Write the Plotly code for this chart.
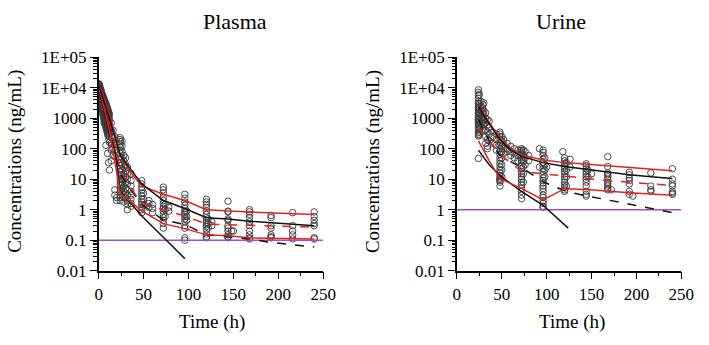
import plotly.graph_objects as go

# ---------------- DATA ----------------
plasma_obs = [
    (0.1, [13500, 12000, 10000, 8500]),
    (0.25, [13000, 11000, 9500, 8000, 6500]),
    (0.5, [12500, 10500, 9000, 7000, 5500]),
    (0.75, [12000, 10000, 8000, 6500, 5000]),
    (1, [12000, 9500, 8000, 6000, 4500, 3500]),
    (1.5, [10000, 8500, 7000, 5000, 4000]),
    (2, [9000, 7500, 6000, 4500, 3500, 2800]),
    (2.5, [8500, 6500, 5000, 4000, 3000]),
    (3, [7500, 6000, 4500, 3500, 2500, 2000]),
    (3.5, [6500, 5200, 4000, 3000, 2200]),
    (4, [6000, 4800, 3800, 2800, 2000, 1500]),
    (4.5, [5500, 4300, 3300, 2400, 1700]),
    (5, [5000, 4000, 3000, 2200, 1600, 1200]),
    (5.5, [4500, 3500, 2700, 1900, 1400, 1000]),
    (6, [4200, 3300, 2500, 1800, 1300, 900, 700]),
    (6.5, [3800, 2900, 2200, 1600, 1100, 800]),
    (7, [3500, 2600, 2000, 1400, 1000, 700]),
    (7.5, [3200, 2400, 1800, 1200, 850, 600]),
    (8, [3000, 2200, 1600, 1100, 800, 500, 130]),
    (8.5, [2700, 2000, 1400, 1000, 700, 450]),
    (9, [2400, 1800, 1300, 900, 600, 400]),
    (9.5, [2200, 1600, 1100, 800, 520, 350]),
    (10, [2000, 1500, 1000, 700, 450, 300, 70]),
    (10.5, [1800, 1300, 900, 600, 400, 260]),
    (11, [1600, 1200, 800, 550, 350, 35]),
    (11.5, [1450, 1000, 700, 480, 300, 200]),
    (12, [1300, 900, 600, 400, 250, 160, 20]),
    (14, [700, 400, 250, 150, 90, 40]),
    (16, [400, 250, 150, 100, 60]),
    (18, [250, 150, 90, 55, 4.5, 3]),
    (20, [2.5, 2]),
    (24, [230, 200, 170, 140, 110, 90, 70, 55, 45, 35, 28, 22, 17, 13, 10, 8, 6.5, 5, 4, 3, 2.5, 2]),
    (26, [180, 120, 80, 50, 30, 20, 14, 10, 7, 5, 3.5]),
    (28, [60, 40, 25, 15, 10, 6, 4, 2.5, 1.8]),
    (30, [50, 30, 18, 12, 8, 5, 3.5, 2.5]),
    (32, [25, 15, 10, 7, 4.5, 3, 2, 1.5, 1.0]),
    (36, [15, 9, 6, 4, 3, 2.2, 1.6, 1.3]),
    (48, [9, 7, 5.5, 4.5, 3.5, 2.8, 2.2, 1.8, 1.5, 1.2, 1.0, 0.8]),
    (50, [3.5, 2.2, 1.4]),
    (56, [2.0, 1.6, 1.2]),
    (60, [1.5, 1.1, 0.8]),
    (72, [5.5, 4.5, 3.5, 2.5, 2.0, 1.6, 1.3, 1.1, 0.9, 0.7, 0.55, 0.45, 0.35, 0.25]),
    (74, [1.5, 1.0, 0.6]),
    (78, [1.2, 0.9]),
    (96, [3.2, 2.4, 1.8, 1.4, 1.1, 0.9, 0.8, 0.7, 0.6, 0.5, 0.4, 0.3, 0.25, 0.12, 0.1]),
    (98, [0.9, 0.6, 0.45]),
    (120, [2.2, 1.8, 1.5, 1.2, 0.9, 0.7, 0.55, 0.45, 0.38, 0.32, 0.28, 0.22, 0.16, 0.13, 0.12]),
    (122, [0.5, 0.35, 0.25]),
    (126, [0.4, 0.3]),
    (144, [1.9, 0.9, 0.85, 0.5, 0.45, 0.3, 0.25, 0.2, 0.15, 0.13, 0.12]),
    (148, [0.2]),
    (150, [0.2]),
    (168, [1.0, 0.85, 0.7, 0.55, 0.4, 0.3, 0.2, 0.15, 0.12, 0.11]),
    (192, [0.65, 0.55, 0.3, 0.25, 0.15, 0.13, 0.12]),
    (216, [0.8, 0.3, 0.2, 0.15, 0.11]),
    (240, [0.85, 0.6, 0.45, 0.35, 0.3, 0.12, 0.11]),
]

urine_obs = [
    (24, [8500, 7000, 5500, 4500, 3500, 3000, 2500, 2200, 1900, 1600, 1400, 1200, 1000, 900, 800, 700, 600, 500, 420, 350, 300, 260, 48]),
    (25, [6000, 3000, 2000, 1500, 1100, 800, 600, 450, 350, 280]),
    (27, [3500, 2500, 1800, 1300, 1000, 700, 500]),
    (29, [2800, 2000, 1500, 1100, 800, 600, 400]),
    (30, [3200, 1700, 1300, 900, 650]),
    (32, [1500, 1000, 700, 400, 250, 150]),
    (34, [900, 600, 350, 200, 120, 100]),
    (36, [800, 500, 300, 180]),
    (40, [350, 250, 150]),
    (44, [300, 200, 130, 90]),
    (48, [350, 300, 250, 200, 160, 130, 100, 80, 65, 50, 40, 32, 25, 20, 16, 13, 11, 10, 9, 8, 6]),
    (50, [250, 180, 120, 80, 50, 30, 20, 12]),
    (52, [200, 140, 100, 70]),
    (56, [150, 100, 80]),
    (60, [120, 80, 60]),
    (64, [100, 70, 50]),
    (68, [90, 60, 40]),
    (72, [100, 90, 80, 70, 60, 50, 42, 35, 28, 22, 18, 15, 12, 10, 8, 6.5, 5, 4, 3, 2.3]),
    (74, [90, 60, 40, 25, 15, 8]),
    (76, [80, 50, 30]),
    (80, [60, 40]),
    (92, [100, 25]),
    (96, [90, 75, 60, 45, 35, 28, 22, 18, 14, 11, 9, 7.5, 6, 5, 4, 3, 2.5, 2, 1.6, 1.3, 1.2]),
    (98, [50, 30, 20, 12]),
    (100, [25]),
    (118, [80]),
    (120, [50, 40, 32, 26, 22, 18, 15, 12, 10, 8, 6.5, 5.5, 4.5, 4]),
    (122, [35, 20, 12, 6]),
    (126, [45, 25]),
    (144, [32, 28, 22, 18, 15, 12, 10, 8, 6, 4, 3.2, 2.8]),
    (146, [20, 12]),
    (150, [15]),
    (168, [55, 26, 16, 14, 12, 10, 8, 7, 6, 5, 4.5]),
    (172, [4.5]),
    (192, [17, 14, 11, 9, 7, 4, 3.2]),
    (196, [2.8]),
    (216, [16, 6, 4.5, 4]),
    (240, [22, 10, 7, 6, 4, 3.5, 3.2]),
]

p_red_hi_t = [0, 2, 4, 8, 12, 24, 36, 48, 72, 96, 120, 144, 168, 192, 216, 240]
p_red_hi = [13000, 9500, 6500, 3000, 1300, 60, 16, 6, 3.2, 2.0, 1.0, 0.9, 0.85, 0.8, 0.75, 0.7]
p_red_mid_t = [0, 2, 4, 8, 12, 24, 36, 48, 72, 96, 120, 144, 168, 192, 216, 240]
p_red_mid = [11000, 7000, 5000, 2000, 800, 20, 5, 1.6, 1.0, 0.62, 0.34, 0.32, 0.3, 0.29, 0.28, 0.27]
p_red_lo_t = [0, 2, 4, 8, 12, 24, 36, 48, 72, 96, 120, 144, 168, 192, 216, 240]
p_red_lo = [9000, 6000, 4000, 1300, 400, 3.5, 1.8, 0.9, 0.35, 0.24, 0.15, 0.14, 0.12, 0.115, 0.11, 0.11]
p_blk_hi_t = [0, 2, 4, 8, 12, 24, 48, 72, 96, 120, 144, 168, 192, 216, 240]
p_blk_hi = [12000, 8000, 5500, 2500, 1000, 60, 7, 2.0, 1.1, 0.55, 0.5, 0.42, 0.37, 0.33, 0.3]
p_blk_dash_t = [0, 2, 4, 8, 12, 24, 36, 48, 72, 96, 120, 144, 168, 192, 216, 240]
p_blk_dash = [10000, 6500, 4500, 1800, 700, 15, 4.5, 1.5, 0.46, 0.33, 0.15, 0.13, 0.11, 0.085, 0.07, 0.06]
p_blk_lo_t = [0, 4, 8, 12, 18, 24, 36, 48, 72, 96]
p_blk_lo = [8000, 3500, 1000, 300, 90, 4, 1.6, 0.62, 0.125, 0.025]

u_red_hi_t = [24, 36, 48, 60, 72, 96, 120, 144, 168, 192, 216, 240]
u_red_hi = [2600, 700, 230, 100, 62, 43, 35, 31, 27, 24, 21, 19]
u_red_mid_t = [24, 36, 48, 72, 96, 120, 144, 168, 192, 216, 240]
u_red_mid = [500, 180, 65, 18, 15, 13, 11, 9, 8, 7, 6.2]
u_red_lo_t = [24, 36, 48, 72, 96, 120, 144, 168, 192, 216, 240]
u_red_lo = [180, 40, 10.5, 5.0, 2.1, 4.9, 4.6, 4.0, 3.6, 3.3, 3.0]
u_blk_hi_t = [24, 36, 48, 60, 72, 96, 120, 144, 168, 192, 216, 240]
u_blk_hi = [2400, 650, 200, 90, 56, 35, 26, 21, 17, 14, 12, 10.5]
u_blk_dash_t = [24, 36, 48, 72, 96, 120, 136, 240]
u_blk_dash = [900, 180, 60, 24, 8.3, 4.2, 3.2, 0.8]
u_blk_lo_t = [24, 36, 48, 72, 96, 124]
u_blk_lo = [90, 30, 13, 4.0, 1.4, 0.25]

plasma_lloq = 0.1
urine_lloq = 1

y_tickvals = [0.01, 0.1, 1, 10, 100, 1000, 1e4, 1e5]
y_ticktext = ["0.01", "0.1", "1", "10", "100", "1000", "1E+04", "1E+05"]
x_tickvals = [0, 50, 100, 150, 200, 250]

# ---------------- FIGURE ----------------
RED = "#e3231b"
BLACK = "#111111"
PURPLE = "#a64dbf"
FONT = "Liberation Serif, Times New Roman, DejaVu Serif, serif"

fig = go.Figure()


def flatten(groups):
    xs, ys = [], []
    for t, vals in groups:
        for v in vals:
            xs.append(t)
            ys.append(v)
    return xs, ys


def add_panel(obs, lines, lloq, xa, ya):
    xs, ys = flatten(obs)
    fig.add_trace(go.Scatter(
        x=xs, y=ys, mode="markers", xaxis=xa, yaxis=ya,
        marker=dict(symbol="circle-open", size=6.5, color="#3a3a3a",
                    line=dict(width=0.9, color="#3a3a3a")),
        showlegend=False, hoverinfo="skip"))
    fig.add_trace(go.Scatter(
        x=[0, 250], y=[lloq, lloq], mode="lines", xaxis=xa, yaxis=ya,
        line=dict(color=PURPLE, width=1.4), showlegend=False))
    for t, v, color, dash in lines:
        fig.add_trace(go.Scatter(
            x=t, y=v, mode="lines", xaxis=xa, yaxis=ya,
            line=dict(color=color, width=1.5, dash=dash),
            showlegend=False))


add_panel(plasma_obs, [
    (p_blk_lo_t, p_blk_lo, BLACK, "solid"),
    (p_blk_dash_t, p_blk_dash, BLACK, "dash"),
    (p_red_lo_t, p_red_lo, RED, "solid"),
    (p_red_mid_t, p_red_mid, RED, "dash"),
    (p_red_hi_t, p_red_hi, RED, "solid"),
    (p_blk_hi_t, p_blk_hi, BLACK, "solid"),
], plasma_lloq, "x", "y")

add_panel(urine_obs, [
    (u_blk_lo_t, u_blk_lo, BLACK, "solid"),
    (u_blk_dash_t, u_blk_dash, BLACK, "dash"),
    (u_red_lo_t, u_red_lo, RED, "solid"),
    (u_red_mid_t, u_red_mid, RED, "dash"),
    (u_red_hi_t, u_red_hi, RED, "solid"),
    (u_blk_hi_t, u_blk_hi, BLACK, "solid"),
], urine_lloq, "x2", "y2")

W, H = 709, 345
ytop, ybot = 51, 277
p_left, p_right = 97, 327
u_left, u_right = 464, 694

minor_y = [k * 10.0 ** d for d in range(-2, 5) for k in range(2, 10)]

xcommon = dict(range=[0, 250], tickmode="array", tickvals=x_tickvals,
               ticks="outside", ticklen=7, tickwidth=1.2, tickcolor="black",
               showline=True, linecolor="black", linewidth=1.5,
               showgrid=False, zeroline=False,
               tickfont=dict(family=FONT, size=17, color="black"),
               minor=dict(tickmode="array", tickvals=[25, 75, 125, 175, 225],
                          ticks="outside", ticklen=4, tickwidth=1, tickcolor="black",
                          showgrid=False))
ycommon = dict(type="log", range=[-2, 5], tickmode="array",
               tickvals=y_tickvals, ticktext=y_ticktext,
               ticks="outside", ticklen=7, tickwidth=1.2, tickcolor="black",
               showline=True, linecolor="black", linewidth=1.5,
               showgrid=False, zeroline=False,
               tickfont=dict(family=FONT, size=17, color="black"),
               minor=dict(tickmode="array", tickvals=minor_y,
                          ticks="outside", ticklen=3.5, tickwidth=0.8,
                          tickcolor="black", showgrid=False))

fig.update_layout(
    width=W, height=H, autosize=False,
    margin=dict(l=0, r=0, t=0, b=0),
    plot_bgcolor="white", paper_bgcolor="white",
    font=dict(family=FONT),
    xaxis=dict(domain=[p_left / W, p_right / W], anchor="y", **xcommon),
    yaxis=dict(domain=[1 - ybot / H, 1 - ytop / H], anchor="x", **ycommon),
    xaxis2=dict(domain=[u_left / W, u_right / W], anchor="y2", **xcommon),
    yaxis2=dict(domain=[1 - ybot / H, 1 - ytop / H], anchor="x2", **ycommon),
    showlegend=False,
)


def ann(text, x, y, size, angle=0):
    fig.add_annotation(text=text, x=x / W, y=1 - y / H, xref="paper", yref="paper",
                       showarrow=False, textangle=angle,
                       font=dict(family=FONT, size=size, color="black"),
                       xanchor="center", yanchor="middle")


ann("Plasma", 237, 13, 22)
ann("Urine", 571, 13, 22)
ann("Time (h)", 213, 331, 19)
ann("Time (h)", 582, 331, 19)
ann("Concentrations (ng/mL)", 11, 161, 19, -90)
ann("Concentrations (ng/mL)", 378, 161, 19, -90)

fig.write_html("out.html")
